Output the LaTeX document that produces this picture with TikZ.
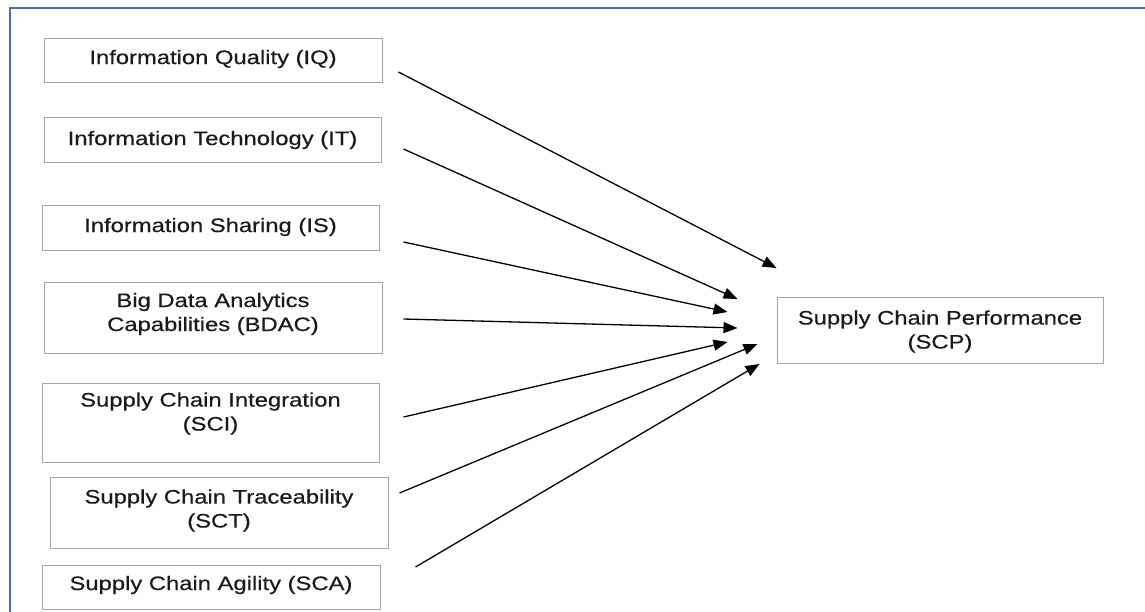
\documentclass[tikz,border=0pt]{standalone}
\usepackage{fontspec}
\setmainfont[FakeStretch=1.22,FakeBold=0.4]{Liberation Sans}
\usetikzlibrary{arrows.meta,calc}
\definecolor{framec}{HTML}{4A6EAA}
\definecolor{boxc}{HTML}{A6A6A6}
\definecolor{txtc}{HTML}{1A1A1A}
\begin{document}
\begin{tikzpicture}[x=1pt,y=-1pt,
  box/.style={draw=boxc,line width=1pt,inner sep=0pt,rectangle},
  lbl/.style={align=center,text=txtc,inner sep=0pt,font=\fontsize{19.5}{24}\selectfont},
  arr/.style={line width=1.3pt,-{Triangle[length=14pt,width=11pt]}},
  frame/.style={draw=framec,line width=2pt}]
\useasboundingbox (0,0) rectangle (1145,612);
\fill[white] (0,0) rectangle (1145,612);
\draw[frame] (10,613) -- (10,8) -- (1146,8);

\node[box,minimum width=338pt,minimum height=44pt,
  label={[lbl,yshift=2pt]center:Information Quality (IQ)}] (iq) at (213,61) {};
\node[box,minimum width=337pt,minimum height=45pt,
  label={[lbl,yshift=0.5pt]center:Information Technology (IT)}] (it) at (212.5,140.5) {};
\node[box,minimum width=337pt,minimum height=45pt,
  label={[lbl,yshift=1.5pt]center:Information Sharing (IS)}] (is) at (210.5,228.5) {};
\node[box,minimum width=338pt,minimum height=71pt,
  label={[lbl,yshift=3.5pt]center:{Big Data Analytics\\Capabilities (BDAC)}}] (bdac) at (213,317.5) {};
\node[box,minimum width=337pt,minimum height=79pt,
  label={[lbl,yshift=9pt]center:{Supply Chain Integration\\(SCI)}}] (sci) at (210.5,422.5) {};
\node[box,minimum width=338pt,minimum height=71pt,
  label={[lbl,yshift=2pt]center:{Supply Chain Traceability\\(SCT)}}] (sct) at (219,512.5) {};
\node[box,minimum width=338pt,minimum height=44pt,
  label={[lbl,yshift=2pt]center:Supply Chain Agility (SCA)}] (sca) at (211,587) {};
\node[box,minimum width=326pt,minimum height=66pt,
  label={[lbl,yshift=-1.5pt]center:{Supply Chain Performance\\(SCP)}}] (scp) at (940,330) {};

\draw[arr] ($(iq.east)+(16,11)$) -- ($(scp.west)+(0,-62)$);
\draw[arr] ($(it.east)+(22,8.5)$) -- ($(scp.west)+(-39,-31)$);
\draw[arr] ($(is.east)+(24,13.5)$) -- ($(scp.west)+(-49,-18)$);
\draw[arr] ($(bdac.east)+(21,1.5)$) -- ($(scp.west)+(-39,-2)$);
\draw[arr] ($(sci.east)+(24,-5.5)$) -- ($(scp.west)+(-49,12)$);
\draw[arr] ($(sct.east)+(11,-19.5)$) -- ($(scp.west)+(-19,14)$);
\draw[arr] ($(sca.east)+(35,-20)$) -- ($(scp.west)+(-17,34)$);
\end{tikzpicture}
\end{document}
